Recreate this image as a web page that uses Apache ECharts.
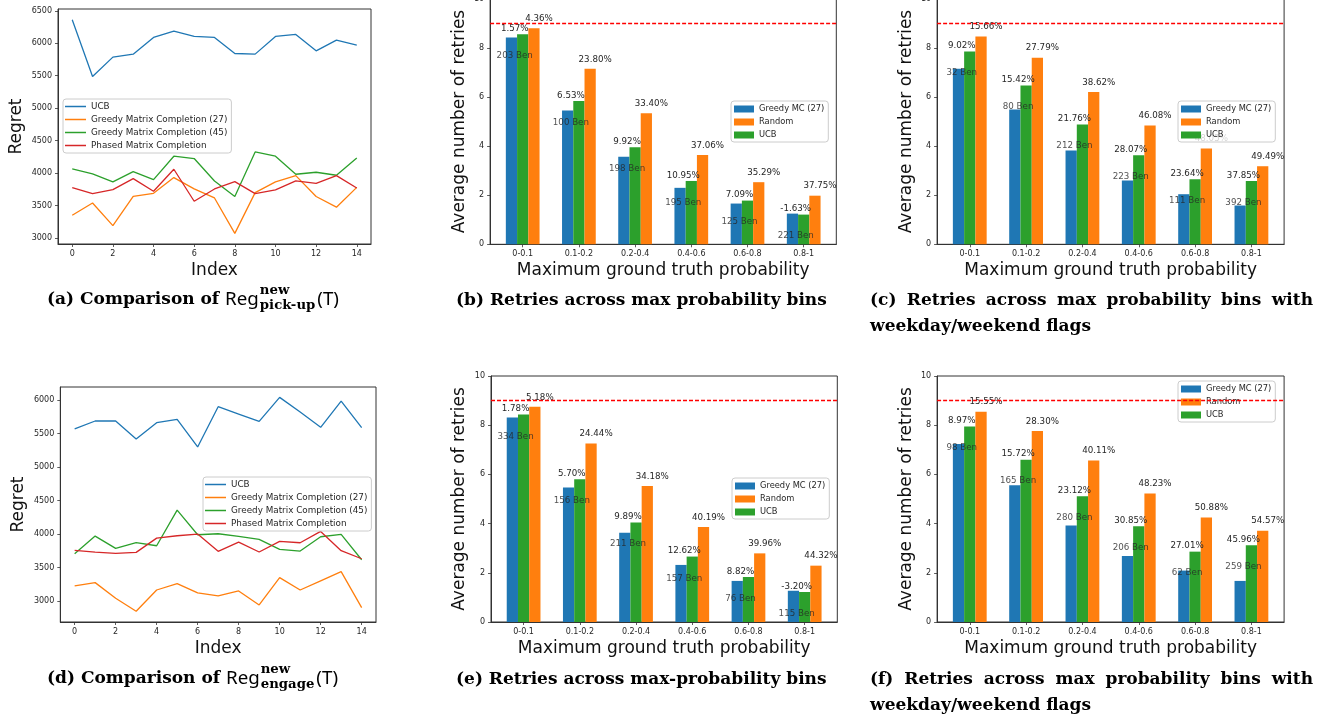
<!DOCTYPE html>
<html>
<head>
<meta charset="utf-8">
<title>Regret and retries</title>
<script src="https://cdn.jsdelivr.net/npm/echarts@6.0.0/dist/echarts.min.js"></script>
<style>
  html, body { margin: 0; padding: 0; background: #fff; }
  #chart { width: 1331px; height: 721px; }
</style>
</head>
<body>
<div id="chart"></div>
<script>
// rounds on the x axis of the regret plots
const rounds = [0, 1, 2, 3, 4, 5, 6, 7, 8, 9, 10, 11, 12, 13, 14]
const roundTicks = [0, 2, 4, 6, 8, 10, 12, 14]
const pickupTicks = [3000, 3500, 4000, 4500, 5000, 5500, 6000, 6500]
const engageTicks = [3000, 3500, 4000, 4500, 5000, 5500, 6000]

// (a) pick-up regret
const pickupUCB = [6360, 5488, 5786, 5832, 6089, 6187, 6104, 6089, 5842, 5832, 6104, 6135, 5883, 6048, 5971]
const pickupGreedy27 = [3350, 3540, 3191, 3643, 3689, 3931, 3756, 3617, 3072, 3699, 3864, 3961, 3640, 3475, 3780]
const pickupGreedy45 = [4064, 3987, 3864, 4023, 3900, 4260, 4224, 3879, 3638, 4326, 4260, 3982, 4013, 3967, 4234]
const pickupPhased = [3776, 3684, 3746, 3915, 3720, 4059, 3566, 3756, 3869, 3684, 3741, 3879, 3843, 3961, 3771]

// (d) engage regret
const engageUCB = [5568, 5687, 5687, 5419, 5662, 5712, 5300, 5901, 5791, 5682, 6040, 5821, 5593, 5985, 5588]
const engageGreedy27 = [3223, 3273, 3039, 2845, 3163, 3258, 3119, 3074, 3149, 2940, 3347, 3163, 3300, 3437, 2900]
const engageGreedy45 = [3705, 3968, 3784, 3869, 3824, 4356, 3988, 4003, 3963, 3918, 3770, 3745, 3958, 3993, 3615]
const engagePhased = [3755, 3730, 3710, 3725, 3938, 3973, 3998, 3740, 3879, 3730, 3889, 3869, 4038, 3750, 3630]

// retries per max-probability bin
const bins = ['0-0.1', '0.1-0.2', '0.2-0.4', '0.4-0.6', '0.6-0.8', '0.8-1']
const binSlots = bins.map((_, k) => k)
const retryBudget = 9

// (b)
const bGreedy = [8.42, 5.45, 3.57, 2.30, 1.66, 1.25]
const bRandom = [8.80, 7.15, 5.34, 3.64, 2.53, 1.98]
const bUCB = [8.56, 5.84, 3.95, 2.58, 1.78, 1.21]
const bGainUCB = ['1.57%', '6.53%', '9.92%', '10.95%', '7.09%', '-1.63%']
const bGainRandom = ['4.36%', '23.80%', '33.40%', '37.06%', '35.29%', '37.75%']
const bBen = [203, 100, 198, 195, 125, 221]
const bBenAt = [7.68, 4.96, 3.07, 1.70, 0.90, 0.35]

// (c)
const cGreedy = [7.15, 5.49, 3.82, 2.60, 2.04, 1.58]
const cRandom = [8.46, 7.60, 6.20, 4.84, 3.90, 3.18]
const cUCB = [7.85, 6.47, 4.88, 3.63, 2.65, 2.58]
const cGainUCB = ['9.02%', '15.42%', '21.76%', '28.07%', '23.64%', '37.85%']
const cGainRandom = ['15.66%', '27.79%', '38.62%', '46.08%', '48.05%', '49.49%']
const cBen = [32, 80, 212, 223, 111, 392]
const cBenAt = [7.00, 5.60, 4.01, 2.76, 1.79, 1.70]

// (e)
const eGreedy = [8.31, 5.47, 3.63, 2.32, 1.67, 1.27]
const eRandom = [8.75, 7.26, 5.53, 3.86, 2.79, 2.29]
const eUCB = [8.44, 5.80, 4.04, 2.66, 1.83, 1.22]
const eGainUCB = ['1.78%', '5.70%', '9.89%', '12.62%', '8.82%', '-3.20%']
const eGainRandom = ['5.18%', '24.44%', '34.18%', '40.19%', '39.96%', '44.32%']
const eBen = [334, 156, 211, 157, 76, 115]
const eBenAt = [7.55, 4.92, 3.17, 1.77, 0.93, 0.35]

// (f)
const fGreedy = [7.24, 5.56, 3.92, 2.68, 2.09, 1.67]
const fRandom = [8.55, 7.76, 6.56, 5.22, 4.25, 3.71]
const fUCB = [7.95, 6.60, 5.11, 3.89, 2.86, 3.12]
const fGainUCB = ['8.97%', '15.72%', '23.12%', '30.85%', '27.01%', '45.96%']
const fGainRandom = ['15.55%', '28.30%', '40.11%', '48.23%', '50.88%', '54.57%']
const fBen = [98, 165, 280, 206, 62, 259]
const fBenAt = [7.07, 5.75, 4.23, 3.01, 1.99, 2.24]

const C = { blue: '#1f77b4', orange: '#ff7f0e', green: '#2ca02c', red: '#d62728' }
const SANS = '"DejaVu Sans", sans-serif'
const INK = '#262626'
const FRAME = '#333333'

const grids = [], xAxes = [], yAxes = [], series = [], legends = []

function frameAxis(extra) {
  return Object.assign({
    nameLocation: 'middle',
    nameTextStyle: { fontFamily: SANS, fontSize: 17, color: '#111' },
    axisLine: { show: true, onZero: false, lineStyle: { color: FRAME, width: 1 } },
    splitLine: { show: false },
    splitArea: { show: false }
  }, extra)
}

function tickLabels(values, extra) {
  return Object.assign({ customValues: values, margin: 6, fontFamily: SANS, fontSize: 8, color: INK,
    formatter: v => String(v) }, extra)
}

function ticks(values) {
  return { show: true, customValues: values, length: 3, inside: false, lineStyle: { color: FRAME, width: 0.8 } }
}

function addGrid(box) {
  grids.push({
    left: box[0], top: box[1], width: box[2], height: box[3],
    show: true, borderColor: FRAME, borderWidth: 1, backgroundColor: 'transparent',
    containLabel: false, outerBoundsMode: 'none'
  })
  return grids.length - 1
}

function addLinePanel(box, yMin, yMax, yTicks, lines, legendAt) {
  const gi = addGrid(box)
  xAxes.push(frameAxis({
    gridIndex: gi, type: 'value', min: -0.7, max: 14.7,
    name: 'Index', nameGap: 18,
    axisTick: ticks(roundTicks), axisLabel: tickLabels(roundTicks)
  }))
  yAxes.push(frameAxis({
    gridIndex: gi, type: 'value', min: yMin, max: yMax,
    name: 'Regret', nameGap: 33,
    axisTick: ticks(yTicks), axisLabel: tickLabels(yTicks)
  }))
  lines.forEach(([name, values, color]) => {
    series.push({
      type: 'line', name, xAxisIndex: gi, yAxisIndex: gi,
      data: rounds.map((r, k) => [r, values[k]]),
      symbol: 'none', lineStyle: { color, width: 1.3 }, itemStyle: { color }
    })
  })
  legends.push({
    left: legendAt[0], top: legendAt[1], orient: 'vertical', icon: 'rect',
    data: lines.map(l => ({ name: l[0], itemStyle: { color: l[2], borderWidth: 0 } })),
    itemWidth: 21, itemHeight: 1.5, itemGap: 4, padding: [3, 4, 3, 2],
    textStyle: { fontFamily: SANS, fontSize: 8.8, color: INK },
    backgroundColor: 'rgba(255,255,255,0.8)', borderColor: '#cccccc', borderWidth: 1, borderRadius: 3,
    selectedMode: false
  })
}

function addBarPanel(box, greedy, random, ucb, gainUCB, gainRandom, ben, benAt, legendAt) {
  const gi = addGrid(box)
  xAxes.push(frameAxis({
    gridIndex: gi, type: 'value', min: -0.58, max: 5.58,
    name: 'Maximum ground truth probability', nameGap: 18,
    axisTick: ticks(binSlots),
    axisLabel: tickLabels(binSlots, { formatter: v => bins[v] })
  }))
  yAxes.push(frameAxis({
    gridIndex: gi, type: 'value', min: 0, max: 10, interval: 2,
    name: 'Average number of retries', nameGap: 22.5,
    axisTick: { show: true, length: 3, lineStyle: { color: FRAME, width: 0.8 } },
    axisLabel: { margin: 6, fontFamily: SANS, fontSize: 8, color: INK }
  }))
  const labelStyle = { fontFamily: SANS, fontSize: 8.7, color: INK }
  const bar = (name, values, color, extra) => Object.assign({
    type: 'bar', name, xAxisIndex: gi, yAxisIndex: gi,
    data: values.map((v, k) => [binSlots[k], v]),
    barWidth: '20%', barGap: '0%',
    itemStyle: { color }
  }, extra)
  series.push(bar('Greedy MC (27)', greedy, C.blue, {
    markLine: {
      silent: true, symbol: ['none', 'none'], label: { show: false },
      lineStyle: { color: '#ff0000', type: [4, 2], width: 1.3, opacity: 1 },
      emphasis: { disabled: true },
      data: [{ yAxis: retryBudget }]
    }
  }))
  series.push(bar('UCB', ucb, C.green, {
    label: Object.assign({ show: true, position: 'top', distance: 1, offset: [-8, 0],
      formatter: p => gainUCB[p.dataIndex] }, labelStyle)
  }))
  series.push(bar('Random', random, C.orange, {
    label: Object.assign({ show: true, position: 'top', distance: 5, offset: [5, 0],
      formatter: p => gainRandom[p.dataIndex] }, labelStyle)
  }))
  series.push({
    type: 'scatter', name: 'ben' + gi, xAxisIndex: gi, yAxisIndex: gi, silent: true,
    data: ben.map((b, k) => [binSlots[k], benAt[k], b]),
    symbolSize: 0, itemStyle: { color: 'transparent' }, z: 5,
    label: Object.assign({ show: true, position: 'inside', offset: [-8, 0],
      formatter: p => p.value[2] + ' Ben' }, labelStyle)
  })
  legends.push({
    left: legendAt[0], top: legendAt[1], orient: 'vertical', icon: 'rect',
    data: [
      { name: 'Greedy MC (27)' },
      { name: 'Random' },
      { name: 'UCB', itemStyle: { color: C.green, borderColor: C.green, borderWidth: 0 } }
    ],
    itemWidth: 20, itemHeight: 7, itemGap: 5, padding: [4, 4, 3, 3],
    textStyle: { fontFamily: SANS, fontSize: 8.3, color: INK },
    backgroundColor: 'rgba(255,255,255,0.8)', borderColor: '#cccccc', borderWidth: 1, borderRadius: 3,
    selectedMode: false
  })
}

addLinePanel([58, 9, 313, 235], 2908, 6527, pickupTicks, [
  ['UCB', pickupUCB, C.blue],
  ['Greedy Matrix Completion (27)', pickupGreedy27, C.orange],
  ['Greedy Matrix Completion (45)', pickupGreedy45, C.green],
  ['Phased Matrix Completion', pickupPhased, C.red]
], [63, 99])
addLinePanel([60.3, 387, 315.7, 235], 2685, 6195, engageTicks, [
  ['UCB', engageUCB, C.blue],
  ['Greedy Matrix Completion (27)', engageGreedy27, C.orange],
  ['Greedy Matrix Completion (45)', engageGreedy45, C.green],
  ['Phased Matrix Completion', engagePhased, C.red]
], [203, 477])
addBarPanel([490.1, -1.2, 346.2, 245.5], bGreedy, bRandom, bUCB, bGainUCB, bGainRandom, bBen, bBenAt, [731, 101])
addBarPanel([937.1, -1.2, 347, 245.5], cGreedy, cRandom, cUCB, cGainUCB, cGainRandom, cBen, cBenAt, [1178, 101])
addBarPanel([491, 376, 346.3, 246], eGreedy, eRandom, eUCB, eGainUCB, eGainRandom, eBen, eBenAt, [732, 478])
addBarPanel([937.1, 376, 347, 246], fGreedy, fRandom, fUCB, fGainUCB, fGainRandom, fBen, fBenAt, [1178, 381])

// ---- sub-figure captions ----
const measure = document.createElement('canvas').getContext('2d')
function widthOf(text, font) { measure.font = font; return measure.measureText(text).width }
const capSize = 16 * 371 / widthOf('(b) Retries across max probability bins', 'bold 16px "DejaVu Serif"')
const capFont = 'bold ' + capSize + 'px "DejaVu Serif"'

function txt(t, x, y, font) {
  return {
    type: 'text', x, y, silent: true,
    style: { text: t, font, fill: '#000', align: 'left', verticalAlign: 'middle',
      textAlign: 'left', textVerticalAlign: 'middle' }
  }
}

function justified(words, x0, x1, y) {
  const ws = words.map(w => widthOf(w, capFont))
  const gap = (x1 - x0 - ws.reduce((a, b) => a + b, 0)) / (words.length - 1)
  let x = x0
  return words.map((w, k) => { const el = txt(w, x, y, capFont); x += ws[k] + gap; return el })
}

function regCaption(tag, sub, x, y) {
  const head = '(' + tag + ') Comparison of '
  const regFont = (capSize * 1.1) + 'px "Noto Sans"'
  const scriptFont = 'bold ' + (capSize * 0.78) + 'px "DejaVu Serif"'
  const els = [txt(head, x, y, capFont)]
  let cx = x + widthOf(head, capFont)
  els.push(txt('Reg', cx, y, regFont))
  cx += widthOf('Reg', regFont) + 1
  els.push(txt('new', cx, y - 9, scriptFont))
  els.push(txt(sub, cx, y + 6, scriptFont))
  cx += Math.max(widthOf('new', scriptFont), widthOf(sub, scriptFont)) + 2
  els.push(txt('(T)', cx, y, regFont))
  return els
}

const captions = [].concat(
  regCaption('a', 'pick-up', 47, 300),
  [txt('(b) Retries across max probability bins', 456, 301, capFont)],
  justified(['(c)', 'Retries', 'across', 'max', 'probability', 'bins', 'with'], 870, 1313, 301),
  [txt('weekday/weekend flags', 870, 327, capFont)],
  regCaption('d', 'engage', 47, 679),
  [txt('(e) Retries across max-probability bins', 456, 680, capFont)],
  justified(['(f)', 'Retries', 'across', 'max', 'probability', 'bins', 'with'], 870, 1313, 680),
  [txt('weekday/weekend flags', 870, 706, capFont)]
)

const chart = echarts.init(document.getElementById('chart'), null, { renderer: 'canvas' })
chart.setOption({
  animation: false,
  backgroundColor: '#ffffff',
  textStyle: { fontFamily: SANS },
  tooltip: { show: false },
  grid: grids,
  xAxis: xAxes,
  yAxis: yAxes,
  legend: legends,
  series: series,
  graphic: { elements: captions }
})
</script>
</body>
</html>
